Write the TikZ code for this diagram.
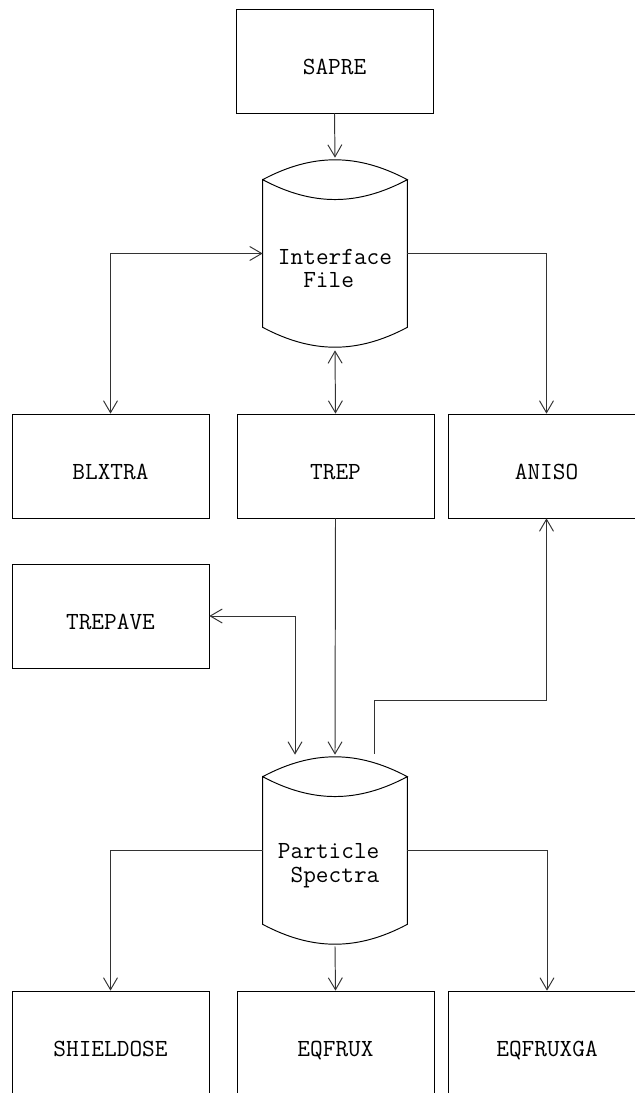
\documentclass[tikz,border=0pt]{standalone}
\usepackage{fontspec}
\usetikzlibrary{arrows.meta,calc}

\tikzset{
  prog/.style={rectangle, draw, minimum width=3.94cm, minimum height=2.08cm,
    inner sep=0pt, text height=15pt, text depth=0pt},
  drum/.style={rectangle, minimum width=2.88cm, minimum height=3.66cm, inner sep=0pt},
  drumtext/.style={align=center, yshift=-0.3cm, font=\ttfamily\fontsize{14}{13.5}\selectfont},
  flow/.style={line width=0.55pt, draw=black!80},
  >={Straight Barb[length=2.4mm, width=2.8mm]}
}

% ドラム(ファイル)の外形
\newcommand{\drumoutline}[1]{%
  \draw[line width=0.55pt] ([yshift=-0.36cm]#1.north west) to[bend left=28] ([yshift=-0.36cm]#1.north east)
    to[bend left=28] ([yshift=-0.36cm]#1.north west) -- ([yshift=0.36cm]#1.south west)
    to[bend right=28] ([yshift=0.36cm]#1.south east) -- ([yshift=-0.36cm]#1.north east);}

\begin{document}
\begin{tikzpicture}[x=0.02cm, y=-0.02cm, font=\ttfamily\fontsize{14}{13.5}\selectfont]
    \useasboundingbox (0,0) rectangle (635,1093);

    % プログラム
    \node[prog] (sapre) at (334.5, 61) {SAPRE};
    \node[prog] (blxtra) at (110.5, 466) {BLXTRA};
    \node[prog] (trep) at (335.5, 466) {TREP};
    \node[prog] (aniso) at (546.5, 466) {ANISO};
    \node[prog] (trepave) at (110.5, 616) {TREPAVE};
    \node[prog] (shield) at (110.5, 1043) {SHIELDOSE};
    \node[prog] (eqfrux) at (335.5, 1043) {EQFRUX};
    \node[prog] (eqfruxga) at (547, 1043) {EQFRUXGA};

    % ファイル
    \node[drum, label={[drumtext]center:{Interface\\File\hphantom{x}}}] (ifile) at (335, 253.5) {};
    \node[drum, label={[drumtext]center:{Particle\hphantom{x}\\Spectra}}] (pspec) at (335, 850.5) {};
    \drumoutline{ifile}
    \drumoutline{pspec}

    % 線を引く
    \draw[flow, ->] (sapre.south) -- ([yshift=0.08cm]ifile.north);
    \draw[flow, <->] (blxtra.north) |- (ifile.west);
    \draw[flow, ->] (ifile.east) -| (aniso.north);
    \draw[flow, <->] ([yshift=-0.1cm]ifile.south) -- (trep.north);
    \draw[flow, ->] (trep.south) -- ([yshift=0.08cm]pspec.north);
    \draw[flow, <->] (trepave.east) -| ([xshift=-0.8cm, yshift=0.08cm]pspec.north);
    \draw[flow, ->] ([xshift=0.78cm, yshift=0.1cm]pspec.north) -- ++(0,-53) -| (aniso.south);
    \draw[flow, ->] (pspec.west) -| (shield.north);
    \draw[flow, ->] (pspec.east) -| (eqfruxga.north);
    \draw[flow, ->] ([yshift=-0.08cm]pspec.south) -- (eqfrux.north);

\end{tikzpicture}
\end{document}
